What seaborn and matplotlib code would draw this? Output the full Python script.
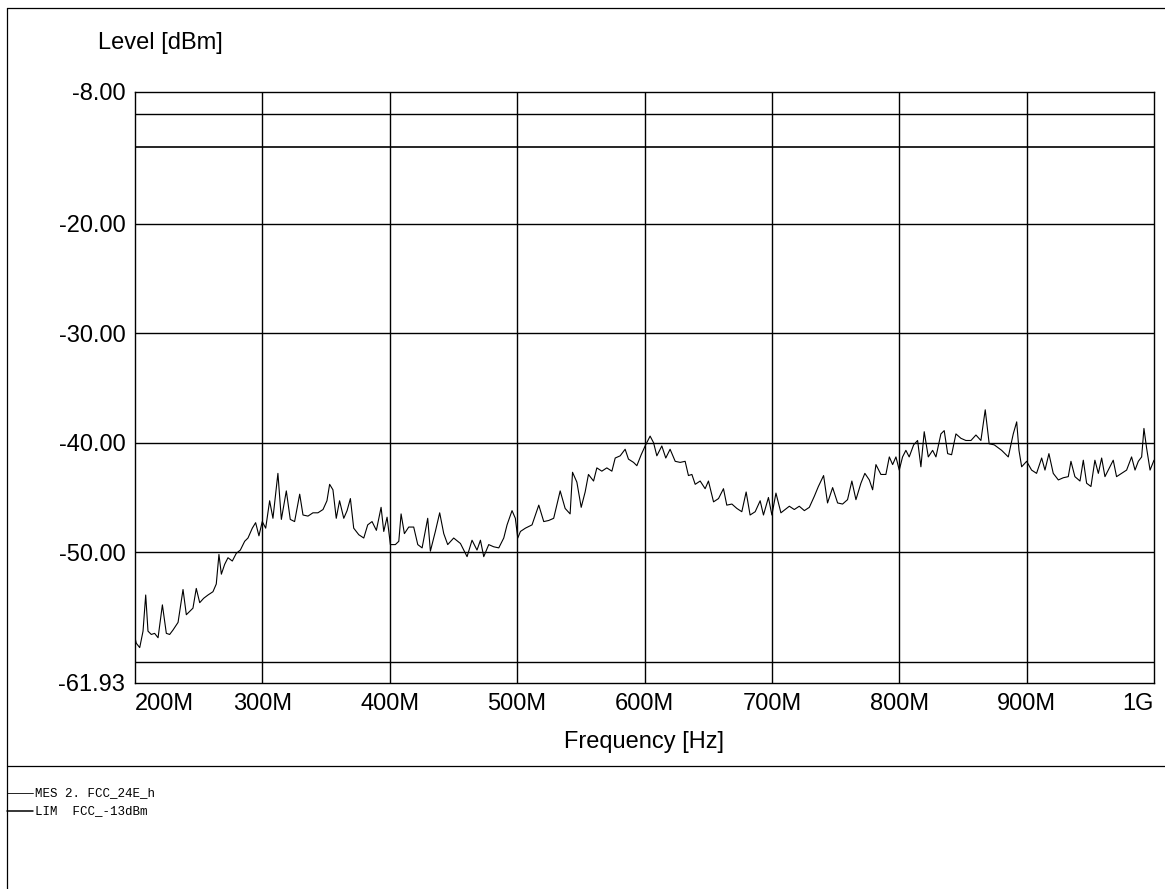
#!/usr/bin/env python3
'''
Spurious emission scan (MES 2. FCC_24E_h) against the FCC -13 dBm limit,
redrawn with seaborn / matplotlib. Output: out.png
'''
import numpy as np
import pandas as pd
import seaborn as sns
import matplotlib.pyplot as plt
from matplotlib.lines import Line2D

freq_mhz = [
    200.0, 201.0, 203.7, 206.3, 208.4, 210.2, 212.8, 215.4, 218.1, 221.5,
    224.6, 227.2, 229.8, 233.8, 237.7, 240.3, 242.9, 245.5, 248.1, 250.8,
    253.9, 257.3, 261.2, 263.8, 265.9, 267.8, 270.4, 273.0, 276.4, 279.5,
    282.7, 286.1, 288.7, 292.1, 294.7, 297.3, 299.9, 302.6, 305.7, 308.3,
    312.2, 314.9, 318.8, 321.9, 325.3, 329.3, 331.9, 335.8, 339.7, 343.6,
    347.6, 350.7, 352.8, 355.4, 358.0, 360.6,
    363.9, 366.5, 369.1, 371.7, 375.7, 379.6, 382.7, 386.1, 389.5, 393.2,
    395.3, 397.9, 400.5, 404.4, 407.1, 408.9, 411.5, 414.9, 418.8, 422.0,
    425.4, 429.8, 431.9, 435.8, 439.2, 442.4, 445.5, 450.2, 455.5, 460.7,
    464.6, 468.5, 471.2, 473.8, 477.7, 481.6, 485.6, 489.5, 492.1, 496.0,
    498.6, 500.5, 502.6, 506.5, 511.7, 517.0, 520.9, 524.8, 528.7,
    533.8, 537.7, 541.6, 543.5, 546.9, 550.3, 553.4, 556.0, 560.0, 562.6,
    566.5, 570.4, 574.4, 577.0, 580.9, 584.8, 587.4, 591.4, 594.0, 597.4,
    600.5, 604.4, 607.1, 609.7, 613.6, 616.7, 620.1, 624.1, 628.0, 631.9,
    634.5, 637.2, 639.8, 643.7, 647.6, 650.2, 654.2, 658.1, 662.0, 664.6,
    668.6, 672.5, 676.4, 679.8, 682.9, 686.9, 690.8, 693.4, 697.3, 700.0,
    703.2, 707.1, 713.7, 717.6, 721.5, 725.5, 729.4, 733.3, 736.5, 740.6,
    743.7, 747.7, 751.6, 755.5, 759.4, 762.8, 766.0, 769.9, 773.0, 776.5,
    779.1, 781.7, 785.6, 789.5, 792.2, 794.8, 797.4, 800.0, 802.6, 805.2,
    807.8, 811.3, 814.4, 817.0, 819.6, 822.8, 826.2, 828.8, 832.7, 835.3,
    838.0, 841.1, 844.5, 848.4, 852.3, 856.3, 860.2, 864.1, 867.5, 870.6,
    874.6, 880.4, 885.6, 889.5, 892.2, 894.0, 896.1, 900.0, 903.9, 907.8,
    911.8, 914.4, 917.5, 920.9, 924.9, 928.8, 932.7, 934.8, 937.9, 941.9,
    944.5, 947.1, 950.5, 953.6, 956.3, 958.9, 961.5, 965.4, 968.0, 970.6,
    974.6, 978.5, 982.4, 985.1, 987.7, 990.3, 992.1, 994.2, 996.9, 1000.0,
]
level_dbm = [
    -57.8, -58.3, -58.7, -57.2, -53.9, -57.2, -57.5, -57.4, -57.8, -54.8,
    -57.4, -57.5, -57.1, -56.4, -53.4, -55.7, -55.4, -55.1, -53.3, -54.6,
    -54.2, -53.9, -53.6, -52.9, -50.2, -52.0, -51.1, -50.5, -50.8, -50.1,
    -49.8, -49.0, -48.7, -47.8, -47.3, -48.5, -47.2, -47.8, -45.3, -46.9,
    -42.8, -47.0, -44.4, -47.0, -47.2, -44.7, -46.6, -46.7, -46.4, -46.4,
    -46.1, -45.3, -43.8, -44.3, -46.9, -45.3,
    -46.9, -46.2, -45.1, -47.8, -48.4, -48.7, -47.5, -47.2, -48.0, -45.9,
    -48.1, -46.8, -49.3, -49.3, -49.0, -46.5, -48.3, -47.7, -47.7, -49.3,
    -49.6, -46.9, -49.9, -48.1, -46.4, -48.3, -49.3, -48.7, -49.2, -50.4,
    -48.9, -49.8, -48.9, -50.4, -49.3, -49.5, -49.6, -48.7, -47.5, -46.2,
    -46.9, -48.7, -48.1, -47.8, -47.5, -45.7, -47.2, -47.1, -46.9,
    -44.4, -46.0, -46.5, -42.7, -43.6, -45.9, -44.5, -42.9, -43.5, -42.3,
    -42.6, -42.3, -42.6, -41.4, -41.2, -40.6, -41.5, -41.8, -42.1, -41.1,
    -40.3, -39.4, -40.0, -41.2, -40.3, -41.4, -40.6, -41.7, -41.8, -41.7,
    -43.0, -42.9, -43.8, -43.5, -44.2, -43.5, -45.4, -45.1, -44.2, -45.7,
    -45.6, -46.0, -46.3, -44.5, -46.6, -46.3, -45.3, -46.6, -45.0, -46.6,
    -44.6, -46.4, -45.8, -46.1, -45.8, -46.2, -45.9, -44.9, -44.0, -43.0,
    -45.5, -44.1, -45.5, -45.6, -45.2, -43.5, -45.2, -43.7, -42.8, -43.4,
    -44.3, -42.0, -42.9, -42.9, -41.3, -42.0, -41.3, -42.5, -41.3, -40.7,
    -41.3, -40.2, -39.8, -42.2, -39.0, -41.3, -40.7, -41.3, -39.2, -38.9,
    -41.0, -41.1, -39.2, -39.6, -39.8, -39.8, -39.3, -39.8, -37.0, -40.1,
    -40.2, -40.7, -41.3, -39.2, -38.1, -40.7, -42.2, -41.7, -42.5, -42.8,
    -41.4, -42.5, -41.0, -42.8, -43.4, -43.2, -43.1, -41.7, -43.1, -43.5,
    -41.6, -43.7, -44.0, -41.6, -42.8, -41.4, -43.1, -42.2, -41.6, -43.1,
    -42.8, -42.5, -41.3, -42.5, -41.7, -41.3, -38.7, -40.5, -42.5, -41.6,
]

limit_dbm = -13.0
grid_y = [-10, -20, -30, -40, -50, -60]
grid_x = [300, 400, 500, 600, 700, 800, 900]
ytick_vals = [-8.0, -20.0, -30.0, -40.0, -50.0, -61.93]
xtick_vals = [200, 300, 400, 500, 600, 700, 800, 900, 1000]
xtick_labels = ['200M', '300M', '400M', '500M', '600M', '700M', '800M', '900M', '1G']
legend_rows = [('MES', '2. FCC_24E_h'), ('LIM', ' FCC_-13dBm')]


def plot_scan(out_path):
    sns.set_theme(style="white")
    plt.rcParams['font.family'] = ['Liberation Sans', 'DejaVu Sans']
    for key in ['text.color', 'axes.labelcolor', 'xtick.color', 'ytick.color']:
        plt.rcParams[key] = 'black'

    df = pd.DataFrame({'freq': freq_mhz, 'level': level_dbm})

    fig = plt.figure(figsize=(11.65, 8.89), dpi=100)
    W, H = 1165, 889
    ax = fig.add_axes([135 / W, 1 - 683 / H, (1154 - 135) / W, (683 - 92) / H])

    # grid + limit line
    for g in grid_y:
        ax.axhline(g, color='black', lw=1.0, zorder=1)
    for g in grid_x:
        ax.axvline(g, color='black', lw=1.0, zorder=1)
    ax.axhline(limit_dbm, color='black', lw=1.2, zorder=2)

    sns.lineplot(data=df, x='freq', y='level', ax=ax, color='black',
                 lw=0.8, estimator=None, sort=False, zorder=3)

    ax.set_xlim(200, 1000)
    ax.set_ylim(-61.93, -8)
    ax.set_xticks(xtick_vals)
    ax.set_xticklabels(xtick_labels, fontsize=17)
    ax.set_yticks(ytick_vals)
    ax.set_yticklabels(['{:.2f}'.format(v) for v in ytick_vals], fontsize=17)
    ax.tick_params(length=0, pad=7)
    xl = ax.get_xticklabels()
    xl[0].set_ha('left')
    xl[-1].set_ha('right')
    ax.set_xlabel('Frequency [Hz]', fontsize=17, labelpad=12)
    ax.set_ylabel('')
    for s in ax.spines.values():
        s.set_color('black')
        s.set_linewidth(1.0)

    fig.text(98 / W, 1 - 43 / H, 'Level [dBm]', fontsize=17, va='center', ha='left')

    # page frame and legend block
    fig.add_artist(Line2D([7 / W, 7 / W], [0, 1 - 8 / H], color='black', lw=0.9))
    fig.add_artist(Line2D([7 / W, 1], [1 - 8 / H, 1 - 8 / H], color='black', lw=0.9))
    fig.add_artist(Line2D([7 / W, 1], [1 - 766 / H, 1 - 766 / H], color='black', lw=0.9))

    ys = [793, 811]
    widths = [0.6, 1.1]
    for (tag, name), yy, lw in zip(legend_rows, ys, widths):
        fig.add_artist(Line2D([7 / W, 33 / W], [1 - yy / H, 1 - yy / H], color='black', lw=lw))
        fig.text(35 / W, 1 - yy / H, '{} {}'.format(tag, name), fontsize=9,
                 family=['Liberation Mono', 'DejaVu Sans Mono'], va='center', ha='left')

    fig.savefig(out_path, dpi=100)
    plt.close(fig)


if __name__ == '__main__':
    plot_scan('out.png')
